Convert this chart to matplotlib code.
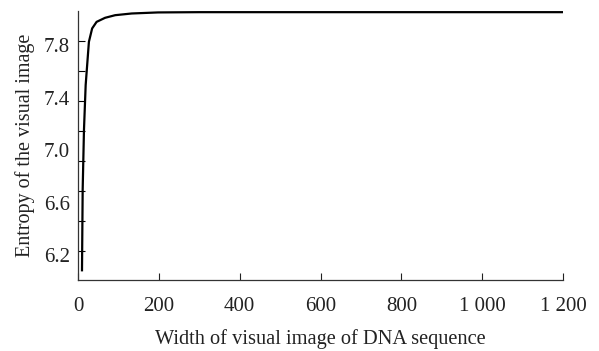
import numpy as np
import matplotlib.pyplot as plt

# width of visual image vs entropy
width = [9.9, 11.6, 14.8, 19, 27, 35, 46, 67, 92, 133, 198, 300, 600, 900, 1200]
entropy = [6.084, 6.70, 7.154, 7.496, 7.825, 7.927, 7.977, 8.008, 8.028, 8.041, 8.049, 8.051, 8.051, 8.051, 8.051]

yticks = [6.2, 6.6, 7.0, 7.4, 7.8]
xticks = [0, 200, 400, 600, 800, 1000, 1200]
xticklabels = ["0", "200", "400", "600", "800", "1 000", "1 200"]

plt.rcParams['font.family'] = ['Liberation Serif', 'DejaVu Serif']

fig = plt.figure(figsize=(5.99, 3.51), dpi=100)
ax = fig.add_axes([0.1302, 0.2023, 0.8098, 0.7664])
ax.plot(width, entropy, color="black", lw=1.6)

ax.set_xlim(0, 1200)
ax.set_ylim(6.01, 8.06)
ax.spines['top'].set_visible(False)
ax.spines['right'].set_visible(False)
for s in ['left', 'bottom']:
    ax.spines[s].set_linewidth(0.9)
    ax.spines[s].set_color("#333333")

ax.set_xticks(xticks)
ax.set_xticklabels(xticklabels)
ax.set_yticks(yticks)
ax.set_yticklabels(["%.1f" % v for v in yticks])
# the tick marks on the y axis do not sit at the labels in the original
ax.set_yticks(np.linspace(6.23, 7.83, 8), minor=True)
ax.tick_params(axis='y', which='major', length=0, pad=6, labelsize=15, colors="#222222")
ax.tick_params(axis='y', which='minor', direction='in', length=5, width=0.8)
ax.tick_params(axis='x', direction='in', length=5, width=0.8, pad=12, labelsize=15, colors="#222222")

ax.set_xlabel("Width of visual image of DNA sequence", fontsize=14.7, color="#222222", labelpad=10)
ax.set_ylabel("Entropy of the visual image", fontsize=14.5, color="#222222", labelpad=6)

fig.savefig("out.png", dpi=100)
